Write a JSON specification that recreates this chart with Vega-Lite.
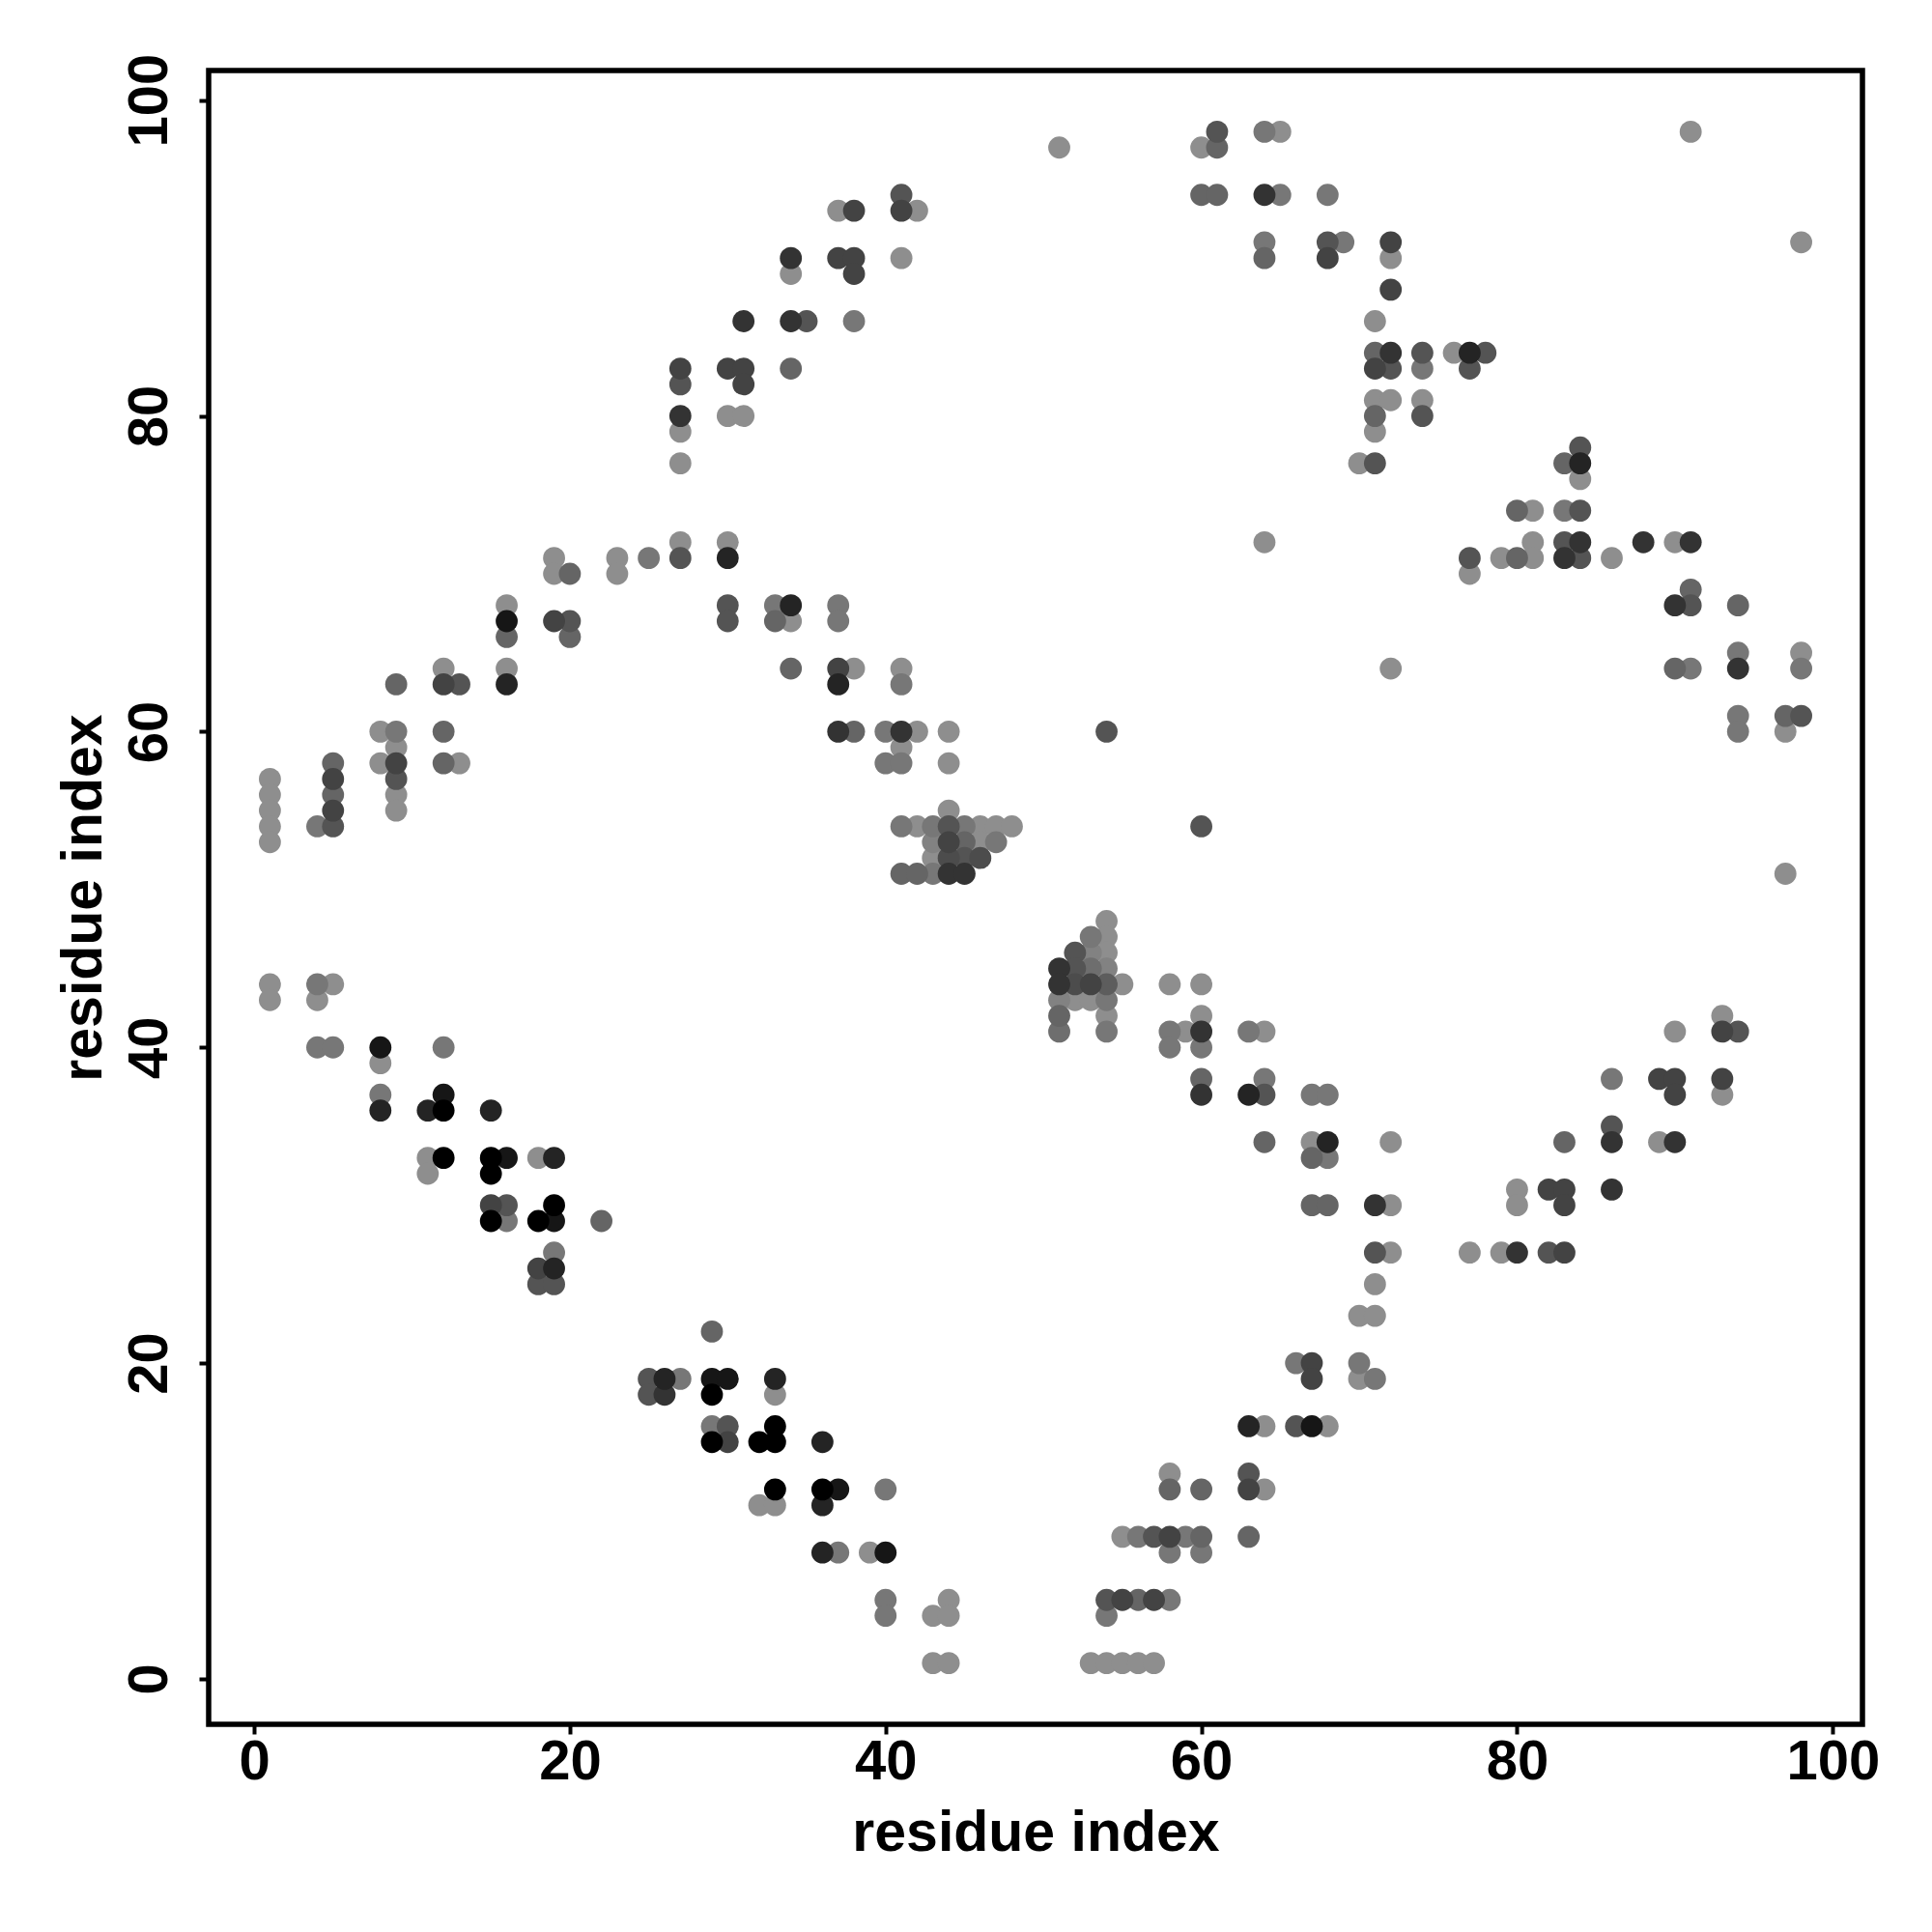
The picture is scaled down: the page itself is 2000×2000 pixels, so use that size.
{
"$schema": "https://vega.github.io/schema/vega-lite/v6.json",
"width": 1712, "height": 1712,
"autosize": {"type": "none"},
"padding": {"left": 216, "top": 73, "right": 72, "bottom": 215},
"background": "white",
"config": {"view": {"stroke": "black", "strokeWidth": 5.5}, "font": "Liberation Sans"},
"data": {"values": [
{"x":1,"y":57,"w":0},{"x":1,"y":56,"w":0},{"x":1,"y":55,"w":0},{"x":1,"y":54,"w":0},{"x":1,"y":53,"w":0},
{"x":4,"y":54,"w":1},
{"x":5,"y":58,"w":2},{"x":5,"y":57,"w":4},{"x":5,"y":56,"w":2},{"x":5,"y":55,"w":4},{"x":5,"y":54,"w":3},
{"x":8,"y":60,"w":0},{"x":8,"y":58,"w":0},
{"x":9,"y":63,"w":2},{"x":9,"y":60,"w":1},{"x":9,"y":59,"w":0},{"x":9,"y":58,"w":4},{"x":9,"y":57,"w":3},{"x":9,"y":56,"w":0},{"x":9,"y":55,"w":0},
{"x":12,"y":64,"w":0},{"x":12,"y":63,"w":4},{"x":13,"y":63,"w":3},{"x":12,"y":60,"w":2},{"x":12,"y":58,"w":2},{"x":13,"y":58,"w":0},
{"x":16,"y":68,"w":0},{"x":16,"y":67,"w":7},{"x":16,"y":66,"w":2},{"x":16,"y":64,"w":0},{"x":16,"y":63,"w":6},
{"x":19,"y":71,"w":0},{"x":19,"y":70,"w":0},{"x":20,"y":70,"w":2},
{"x":19,"y":67,"w":4},{"x":20,"y":67,"w":3},{"x":20,"y":66,"w":2},
{"x":23,"y":71,"w":0},{"x":23,"y":70,"w":0},{"x":25,"y":71,"w":1},
{"x":27,"y":72,"w":0},{"x":27,"y":71,"w":3},
{"x":30,"y":72,"w":0},{"x":30,"y":71,"w":6},
{"x":30,"y":68,"w":3},{"x":30,"y":67,"w":3},
{"x":33,"y":68,"w":1},{"x":33,"y":67,"w":2},{"x":34,"y":68,"w":6},{"x":34,"y":67,"w":0},
{"x":37,"y":68,"w":1},{"x":37,"y":67,"w":1},
{"x":34,"y":64,"w":2},
{"x":37,"y":64,"w":4},{"x":38,"y":64,"w":0},{"x":37,"y":63,"w":6},
{"x":41,"y":64,"w":0},{"x":41,"y":63,"w":1},
{"x":37,"y":60,"w":5},{"x":38,"y":60,"w":2},
{"x":40,"y":60,"w":1},{"x":41,"y":60,"w":5},{"x":42,"y":60,"w":0},{"x":44,"y":60,"w":0},
{"x":41,"y":59,"w":0},{"x":40,"y":58,"w":1},{"x":41,"y":58,"w":1},{"x":44,"y":58,"w":0},
{"x":44,"y":55,"w":0},
{"x":41,"y":54,"w":1},{"x":42,"y":54,"w":0},{"x":43,"y":54,"w":1},{"x":44,"y":54,"w":3},{"x":45,"y":54,"w":1},{"x":46,"y":54,"w":0},{"x":47,"y":54,"w":0},{"x":48,"y":54,"w":0},
{"x":43,"y":53,"w":0.5},{"x":44,"y":53,"w":4},{"x":45,"y":53,"w":2},{"x":46,"y":53,"w":0},{"x":47,"y":53,"w":1},
{"x":43,"y":52,"w":0},{"x":44,"y":52,"w":3.5},{"x":45,"y":52,"w":3},{"x":46,"y":52,"w":3.5},
{"x":41,"y":51,"w":2},{"x":42,"y":51,"w":2},{"x":43,"y":51,"w":1},{"x":44,"y":51,"w":5},{"x":45,"y":51,"w":5},
{"x":27,"y":83,"w":4},{"x":27,"y":82,"w":3},{"x":27,"y":80,"w":5},{"x":27,"y":79,"w":0},{"x":27,"y":77,"w":0},
{"x":30,"y":83,"w":4},{"x":31,"y":83,"w":4},{"x":31,"y":82,"w":4},{"x":31,"y":86,"w":5},
{"x":30,"y":80,"w":0},{"x":31,"y":80,"w":0},
{"x":34,"y":90,"w":5},{"x":34,"y":89,"w":0},{"x":34,"y":86,"w":5},{"x":35,"y":86,"w":3},{"x":34,"y":83,"w":2},
{"x":37,"y":93,"w":0},{"x":38,"y":93,"w":4},{"x":37,"y":90,"w":4},{"x":38,"y":90,"w":4},{"x":38,"y":89,"w":4},{"x":38,"y":86,"w":1},
{"x":41,"y":94,"w":3},{"x":41,"y":93,"w":4},{"x":42,"y":93,"w":0},{"x":41,"y":90,"w":0},
{"x":51,"y":97,"w":0},
{"x":60,"y":97,"w":0},{"x":61,"y":97,"w":2},{"x":61,"y":98,"w":3},
{"x":64,"y":98,"w":1},{"x":65,"y":98,"w":0},
{"x":60,"y":94,"w":2},{"x":61,"y":94,"w":2},{"x":64,"y":94,"w":5},{"x":65,"y":94,"w":1},
{"x":64,"y":91,"w":1},{"x":64,"y":90,"w":2},
{"x":68,"y":94,"w":1},
{"x":68,"y":91,"w":3},{"x":69,"y":91,"w":1},{"x":68,"y":90,"w":4},
{"x":72,"y":91,"w":4},{"x":72,"y":90,"w":0},{"x":72,"y":88,"w":4},
{"x":91,"y":98,"w":0},{"x":98,"y":91,"w":0},
{"x":71,"y":86,"w":0},{"x":71,"y":84,"w":2},{"x":72,"y":84,"w":5},{"x":71,"y":83,"w":4},{"x":72,"y":83,"w":3},
{"x":74,"y":84,"w":3},{"x":74,"y":83,"w":1},
{"x":76,"y":84,"w":0},{"x":77,"y":84,"w":6},{"x":78,"y":84,"w":3},{"x":77,"y":83,"w":3},
{"x":71,"y":81,"w":0},{"x":72,"y":81,"w":0},{"x":71,"y":80,"w":2},{"x":71,"y":79,"w":0},
{"x":74,"y":81,"w":0},{"x":74,"y":80,"w":3},
{"x":70,"y":77,"w":0},{"x":71,"y":77,"w":3},
{"x":84,"y":78,"w":3},{"x":83,"y":77,"w":2},{"x":84,"y":77,"w":6},{"x":84,"y":76,"w":0},
{"x":80,"y":74,"w":2},{"x":81,"y":74,"w":0},{"x":83,"y":74,"w":1},{"x":84,"y":74,"w":3},
{"x":81,"y":72,"w":0},{"x":83,"y":72,"w":3},{"x":84,"y":72,"w":5},
{"x":77,"y":71,"w":3},{"x":77,"y":70,"w":0},
{"x":79,"y":71,"w":0},{"x":80,"y":71,"w":2},{"x":81,"y":71,"w":0},
{"x":83,"y":71,"w":5},{"x":84,"y":71,"w":3},
{"x":86,"y":71,"w":0},
{"x":88,"y":72,"w":5},
{"x":90,"y":72,"w":0},{"x":91,"y":72,"w":5},
{"x":91,"y":69,"w":2},{"x":90,"y":68,"w":5},{"x":91,"y":68,"w":3},
{"x":94,"y":68,"w":2},
{"x":64,"y":72,"w":0},
{"x":94,"y":65,"w":1},{"x":98,"y":65,"w":0},
{"x":72,"y":64,"w":0},{"x":90,"y":64,"w":2},{"x":91,"y":64,"w":1},{"x":94,"y":64,"w":5},{"x":98,"y":64,"w":1},
{"x":94,"y":61,"w":1},{"x":97,"y":61,"w":2},{"x":98,"y":61,"w":3},
{"x":94,"y":60,"w":1},{"x":97,"y":60,"w":0},
{"x":97,"y":51,"w":0},
{"x":54,"y":60,"w":3},
{"x":60,"y":54,"w":3},
{"x":54,"y":48,"w":0},
{"x":53,"y":47,"w":1},{"x":54,"y":47,"w":0},
{"x":52,"y":46,"w":3},{"x":53,"y":46,"w":0.5},{"x":54,"y":46,"w":0},
{"x":51,"y":45,"w":5},{"x":52,"y":45,"w":3},{"x":53,"y":45,"w":1.5},{"x":54,"y":45,"w":0.5},
{"x":51,"y":44,"w":5},{"x":52,"y":44,"w":3.5},{"x":53,"y":44,"w":4},{"x":54,"y":44,"w":2.5},{"x":55,"y":44,"w":0},
{"x":51,"y":43,"w":0.5},{"x":52,"y":43,"w":0},{"x":53,"y":43,"w":0},{"x":54,"y":43,"w":1},
{"x":51,"y":42,"w":2},{"x":54,"y":42,"w":0},
{"x":51,"y":41,"w":1.5},{"x":54,"y":41,"w":1},
{"x":58,"y":44,"w":0},{"x":60,"y":44,"w":0},{"x":60,"y":42,"w":0},
{"x":58,"y":41,"w":1},{"x":59,"y":41,"w":0},{"x":60,"y":41,"w":5},{"x":63,"y":41,"w":1},{"x":64,"y":41,"w":0},
{"x":58,"y":40,"w":1},{"x":60,"y":40,"w":1},
{"x":60,"y":38,"w":2},{"x":64,"y":38,"w":1},
{"x":60,"y":37,"w":5},{"x":63,"y":37,"w":6},{"x":64,"y":37,"w":3},{"x":67,"y":37,"w":1},{"x":68,"y":37,"w":1},
{"x":64,"y":34,"w":2},{"x":67,"y":34,"w":0},{"x":68,"y":34,"w":6},{"x":72,"y":34,"w":0},
{"x":67,"y":33,"w":2},{"x":68,"y":33,"w":1},
{"x":67,"y":30,"w":2},{"x":68,"y":30,"w":2},{"x":71,"y":30,"w":5},{"x":72,"y":30,"w":0},
{"x":71,"y":27,"w":3},{"x":72,"y":27,"w":0},{"x":71,"y":25,"w":0},{"x":70,"y":23,"w":0},{"x":71,"y":23,"w":0},
{"x":66,"y":20,"w":1},{"x":67,"y":20,"w":4},{"x":67,"y":19,"w":4},{"x":70,"y":20,"w":1},{"x":70,"y":19,"w":0},{"x":71,"y":19,"w":1},
{"x":63,"y":16,"w":6},{"x":64,"y":16,"w":0},{"x":66,"y":16,"w":3},{"x":67,"y":16,"w":7},{"x":68,"y":16,"w":0},
{"x":58,"y":13,"w":0},{"x":58,"y":12,"w":2},{"x":60,"y":12,"w":2},{"x":63,"y":13,"w":3},{"x":63,"y":12,"w":4},{"x":64,"y":12,"w":0},
{"x":55,"y":9,"w":0},{"x":56,"y":9,"w":1},{"x":57,"y":9,"w":3},{"x":58,"y":9,"w":4},{"x":59,"y":9,"w":1},{"x":60,"y":9,"w":2},{"x":63,"y":9,"w":2},
{"x":58,"y":8,"w":1},{"x":60,"y":8,"w":1},
{"x":54,"y":5,"w":3},{"x":55,"y":5,"w":4},{"x":56,"y":5,"w":2},{"x":57,"y":5,"w":4},{"x":58,"y":5,"w":1},{"x":54,"y":4,"w":1},
{"x":53,"y":1,"w":0},{"x":54,"y":1,"w":0},{"x":55,"y":1,"w":0},{"x":56,"y":1,"w":0},{"x":57,"y":1,"w":0},
{"x":80,"y":31,"w":0},{"x":80,"y":30,"w":0},{"x":82,"y":31,"w":4},{"x":83,"y":31,"w":4},{"x":83,"y":30,"w":4},{"x":86,"y":31,"w":5},
{"x":77,"y":27,"w":0},{"x":79,"y":27,"w":0},{"x":80,"y":27,"w":5},{"x":82,"y":27,"w":3},{"x":83,"y":27,"w":4},
{"x":83,"y":34,"w":2},{"x":86,"y":35,"w":3},{"x":86,"y":34,"w":5},{"x":86,"y":38,"w":1},
{"x":89,"y":38,"w":4},{"x":90,"y":38,"w":4},{"x":90,"y":37,"w":4},{"x":89,"y":34,"w":0},{"x":90,"y":34,"w":5},
{"x":90,"y":41,"w":0},{"x":93,"y":42,"w":0},{"x":93,"y":41,"w":4},{"x":94,"y":41,"w":3},
{"x":93,"y":38,"w":4},{"x":93,"y":37,"w":0},
{"x":1,"y":44,"w":0},{"x":1,"y":43,"w":0},{"x":4,"y":44,"w":1},{"x":5,"y":44,"w":0},{"x":4,"y":43,"w":0},
{"x":4,"y":40,"w":1},{"x":5,"y":40,"w":1},
{"x":8,"y":40,"w":7},{"x":8,"y":39,"w":0},{"x":12,"y":40,"w":1},
{"x":8,"y":37,"w":1},{"x":8,"y":36,"w":6},
{"x":11,"y":36,"w":6},{"x":12,"y":37,"w":7},{"x":12,"y":36,"w":8},{"x":15,"y":36,"w":6},
{"x":11,"y":33,"w":0},{"x":11,"y":32,"w":0},{"x":12,"y":33,"w":8},
{"x":15,"y":33,"w":8},{"x":15,"y":32,"w":8},{"x":16,"y":33,"w":7},
{"x":18,"y":33,"w":0},{"x":19,"y":33,"w":6},
{"x":15,"y":30,"w":4},{"x":16,"y":30,"w":3},{"x":15,"y":29,"w":8},{"x":16,"y":29,"w":1},
{"x":19,"y":30,"w":8},{"x":18,"y":29,"w":8},{"x":19,"y":29,"w":7},
{"x":22,"y":29,"w":2},
{"x":19,"y":27,"w":1},{"x":18,"y":26,"w":4},{"x":19,"y":26,"w":6},{"x":18,"y":25,"w":3},{"x":19,"y":25,"w":3},
{"x":29,"y":22,"w":2},
{"x":25,"y":19,"w":3},{"x":26,"y":19,"w":6},{"x":27,"y":19,"w":1},{"x":25,"y":18,"w":3},{"x":26,"y":18,"w":5},
{"x":29,"y":19,"w":7},{"x":30,"y":19,"w":7},{"x":29,"y":18,"w":8},
{"x":33,"y":19,"w":6},{"x":33,"y":18,"w":0},
{"x":29,"y":16,"w":1},{"x":30,"y":16,"w":3},{"x":29,"y":15,"w":8},{"x":30,"y":15,"w":4},
{"x":32,"y":15,"w":8},{"x":33,"y":16,"w":8},{"x":33,"y":15,"w":8},
{"x":36,"y":15,"w":6},
{"x":33,"y":12,"w":8},{"x":32,"y":11,"w":0},{"x":33,"y":11,"w":0},
{"x":36,"y":12,"w":8},{"x":37,"y":12,"w":7},{"x":36,"y":11,"w":6},
{"x":40,"y":12,"w":1},
{"x":36,"y":8,"w":6},{"x":37,"y":8,"w":1},{"x":39,"y":8,"w":0},{"x":40,"y":8,"w":7},
{"x":40,"y":5,"w":1},{"x":40,"y":4,"w":1},
{"x":44,"y":5,"w":0},{"x":43,"y":4,"w":0},{"x":44,"y":4,"w":0},
{"x":43,"y":1,"w":0},{"x":44,"y":1,"w":0}
]},
"mark": {"type": "point", "shape": "circle", "filled": true, "opacity": 1, "size": 520, "strokeWidth": 0},
"encoding": {
"x": {"field": "x", "type": "quantitative",
 "scale": {"domain": [-2.88, 101.88], "nice": false, "zero": false},
 "axis": {"title": "residue index", "values": [0, 20, 40, 60, 80, 100], "grid": false, "domain": false,
  "tickSize": 10, "tickWidth": 4, "tickColor": "black",
  "labelFont": "Liberation Sans", "labelFontSize": 58, "labelFontWeight": "bold", "labelColor": "black",
  "labelBaseline": "alphabetic", "labelAlign": "center", "labelPadding": 46, "labelFlush": false, "labelOverlap": false,
  "titleFont": "Liberation Sans", "titleFontSize": 59, "titleFontWeight": "bold", "titleColor": "black",
  "titleBaseline": "alphabetic", "titleAlign": "center", "titleX": 856, "titleY": 130}},
"y": {"field": "y", "type": "quantitative",
 "scale": {"domain": [-2.88, 101.88], "nice": false, "zero": false},
 "axis": {"title": "residue index", "values": [0, 20, 40, 60, 80, 100], "grid": false, "domain": false,
  "tickSize": 10, "tickWidth": 4, "tickColor": "black",
  "labelFont": "Liberation Sans", "labelFontSize": 58, "labelFontWeight": "bold", "labelColor": "black",
  "labelAngle": -90, "labelBaseline": "alphabetic", "labelAlign": "center", "labelPadding": 34, "labelFlush": false, "labelOverlap": false,
  "titleFont": "Liberation Sans", "titleFontSize": 59, "titleFontWeight": "bold", "titleColor": "black",
  "titleAngle": -90, "titleBaseline": "alphabetic", "titleAlign": "center", "titleX": -112, "titleY": 856}},
"color": {"field": "w", "type": "quantitative",
 "scale": {"domain": [0, 1, 8], "range": ["#8e8e8e", "#777777", "#000000"]}, "legend": null},
"order": {"field": "w", "type": "quantitative", "sort": "ascending"}
}
}
